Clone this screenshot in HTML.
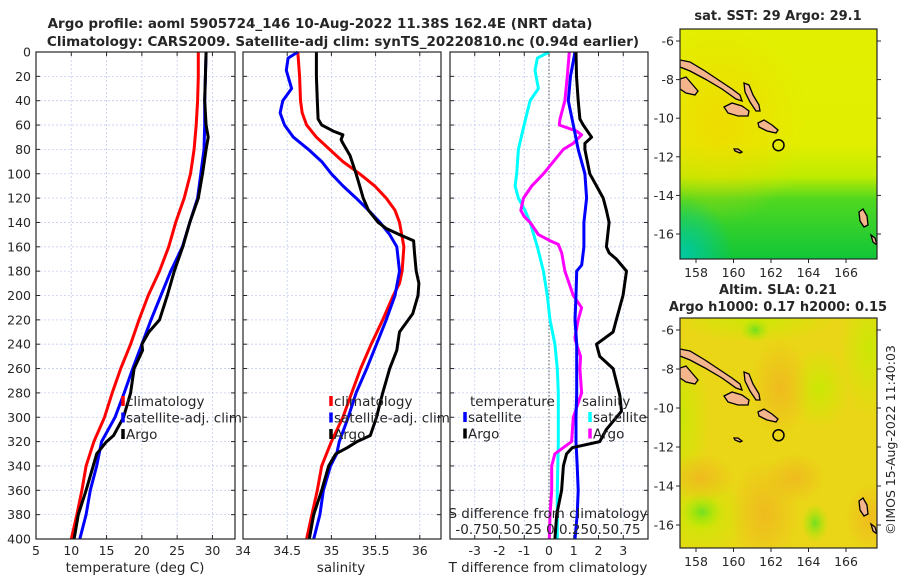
<!DOCTYPE html>
<html><head><meta charset="utf-8">
<style>
body{margin:0;background:#fff;width:900px;height:580px;overflow:hidden;font-family:"Liberation Sans","DejaVu Sans",sans-serif;}
svg text{font-family:"DejaVu Sans","Liberation Sans",sans-serif;fill:#262626;}
</style></head>
<body>
<svg id="c" width="900" height="580" xmlns="http://www.w3.org/2000/svg">
<defs>
<linearGradient id="sstBase" x1="0" y1="0" x2="0" y2="1">
<stop offset="0" stop-color="#e2f000"/><stop offset="0.5" stop-color="#e2ee00"/><stop offset="0.64" stop-color="#c0ec00"/><stop offset="0.74" stop-color="#50d820"/><stop offset="1" stop-color="#10c638"/></linearGradient>
<radialGradient id="sstOr" cx="0.2" cy="0.4" r="0.45"><stop offset="0" stop-color="#f4d400" stop-opacity="0.7"/><stop offset="1" stop-color="#f4d400" stop-opacity="0"/></radialGradient>
<radialGradient id="sstTeal" cx="0.02" cy="0.98" r="0.25"><stop offset="0" stop-color="#00c8a0"/><stop offset="1" stop-color="#00c8a0" stop-opacity="0"/></radialGradient>
<radialGradient id="slaOr" cx="0.5" cy="0.5" r="0.5"><stop offset="0" stop-color="#f0b420" stop-opacity="0.8"/><stop offset="1" stop-color="#f0b420" stop-opacity="0"/></radialGradient>
<radialGradient id="slaGr" cx="0.5" cy="0.5" r="0.5"><stop offset="0" stop-color="#70e020"/><stop offset="1" stop-color="#b0e800" stop-opacity="0"/></radialGradient>
<radialGradient id="slaLg" cx="0.5" cy="0.5" r="0.5"><stop offset="0" stop-color="#c4ec00" stop-opacity="0.8"/><stop offset="1" stop-color="#c4ec00" stop-opacity="0"/></radialGradient>
<clipPath id="mclip"><rect x="0" y="0" width="197" height="230"/></clipPath>
</defs>
<text x="320" y="28" text-anchor="middle" font-size="13.5" font-weight="bold">Argo profile: aoml 5905724_146 10-Aug-2022 11.38S 162.4E (NRT data)</text>
<text x="343" y="46" text-anchor="middle" font-size="13.5" font-weight="bold">Climatology: CARS2009. Satellite-adj clim: synTS_20220810.nc (0.94d earlier)</text>
<g id="plots"></g>
<g id="maps"></g>
<text transform="translate(895,440) rotate(-90)" text-anchor="middle" font-size="12.5">©IMOS 15-Aug-2022 11:40:03</text>
</svg>
<script>
// depth axis ticks
const depthTicks=[0,20,40,60,80,100,120,140,160,180,200,220,240,260,280,300,320,340,360,380,400];
// Panel 1: temperature
const tempTicks=[5,10,15,20,25,30];
const tClimD=[0,20,40,60,80,100,120,140,160,180,200,220,240,260,280,300,320,340,360,380,400];
const tClim=[28.0,28.0,27.9,27.7,27.4,26.9,26.0,24.8,23.8,22.5,20.9,19.6,18.4,17.0,15.8,14.7,13.2,12.1,11.5,10.8,10.0];
const tSatD=[0,20,40,60,80,100,120,140,160,180,200,220,240,260,280,300,320,340,360,380,400];
const tSat=[29.1,29.0,28.9,28.9,28.8,28.35,27.9,26.8,25.75,24.1,22.7,21.3,20.0,18.7,17.5,16.2,14.3,13.6,12.7,12.1,11.2];
const tArgoD=[0,20,40,60,70,80,100,120,140,160,170,180,200,220,230,240,245,260,280,300,315,320,330,340,360,380,400];
const tArgo=[29.1,29.0,28.9,29.1,29.4,29.1,28.6,28.0,26.8,25.8,25.2,24.6,23.6,22.5,21.0,20.0,20.1,18.9,18.4,17.4,16.0,15.0,13.6,13.1,12.1,11.0,10.4];
// Panel 2: salinity
const salTicks=[34,34.5,35,35.5,36];
const salTickLabels=["34","34.5","35","35.5","36"];
const sClimD=[0,20,40,50,60,70,80,90,100,110,120,130,140,160,180,190,200,220,240,260,280,300,320,340,360,380,400];
const sClim=[34.62,34.64,34.65,34.67,34.72,34.83,34.98,35.13,35.32,35.49,35.62,35.72,35.77,35.82,35.80,35.77,35.70,35.58,35.45,35.33,35.23,35.13,35.00,34.89,34.84,34.78,34.72];
const sSatD=[0,5,15,30,40,50,60,70,80,90,100,110,120,130,140,150,160,180,200,220,240,260,280,300,320,330,340,360,380,400];
const sSat=[34.62,34.51,34.49,34.55,34.45,34.42,34.47,34.57,34.74,34.89,35.0,35.13,35.28,35.42,35.55,35.66,35.74,35.77,35.72,35.62,35.51,35.40,35.28,35.19,35.09,35.06,34.99,34.91,34.87,34.80];
const sArgoD=[0,20,40,55,60,65,68,72,75,85,100,110,120,130,140,145,150,155,165,180,190,200,215,230,245,260,280,300,315,320,325,330,340,360,380,400];
const sArgo=[34.83,34.83,34.84,34.85,34.89,35.02,35.13,35.11,35.13,35.21,35.28,35.32,35.36,35.42,35.53,35.62,35.77,35.93,35.94,35.96,35.99,35.98,35.92,35.77,35.74,35.66,35.58,35.51,35.44,35.29,35.18,35.05,34.97,34.89,34.80,34.75];
// Panel 3: differences
const dTTicks=[-3,-2,-1,0,1,2,3];
const dTSatD=[0,20,40,60,80,100,120,140,160,175,180,200,220,240,260,280,300,320,340,360,380,400];
const dTSat=[1.05,0.87,0.78,0.98,1.18,1.45,1.52,1.41,1.41,1.32,1.12,1.09,1.05,1.12,1.12,1.12,1.09,1.09,1.14,1.18,1.14,1.05];
const dTArgoD=[0,20,40,55,60,70,75,80,100,110,120,130,140,160,165,170,180,200,220,230,240,250,260,282,295,310,320,325,330,340,360,380,400];
const dTArgo=[1.09,1.11,1.18,1.25,1.38,1.72,1.45,1.45,1.65,1.92,2.19,2.32,2.43,2.32,2.43,2.72,3.13,2.99,2.72,2.59,1.92,2.05,2.59,2.86,2.93,2.32,2.05,0.94,0.71,0.58,0.51,0.31,0.24];
const dSSatD=[0,5,15,30,40,60,80,100,110,120,130,140,160,180,200,220,240,260,280,320,360,400];
const dSSat=[0,-0.117,-0.141,-0.107,-0.191,-0.252,-0.309,-0.326,-0.342,-0.309,-0.242,-0.191,-0.117,-0.057,-0.017,0.010,0.060,0.084,0.094,0.094,0.084,0.084];
const dSArgoD=[0,20,40,55,60,65,68,75,80,90,100,110,120,130,135,140,150,155,158,165,180,200,210,220,235,240,250,260,280,300,320,330,340,360,380,400];
const dSArgo=[0.205,0.185,0.161,0.111,0.104,0.278,0.329,0.245,0.144,0.044,-0.057,-0.174,-0.258,-0.285,-0.252,-0.191,-0.107,0.010,0.094,0.128,0.161,0.245,0.329,0.295,0.262,0.278,0.319,0.312,0.329,0.245,0.228,0.060,0.027,0.027,0.010,0.003];

const NS='http://www.w3.org/2000/svg';
const root=document.getElementById('plots');
function mk(tag,attrs,parent){const e=document.createElementNS(NS,tag);for(const k in attrs)e.setAttribute(k,attrs[k]);(parent||root).appendChild(e);return e;}
const Y0=52,Y1=539;
function yS(d){return Y0+(d/400)*(Y1-Y0);}
function lin(d0,d1,r0,r1){return v=>r0+(v-d0)/(d1-d0)*(r1-r0);}

function panel(name,x0,x1,xs,xticks,xlabels,showY){
  const g=mk('g',{});
  
  
  xticks.forEach(t=>{const x=xs(t);mk('line',{x1:x,x2:x,y1:Y0,y2:Y1,stroke:'#c3cdf0','stroke-width':0.8,'stroke-dasharray':'2,2'},g);
    mk('line',{x1:x,x2:x,y1:Y1,y2:Y1-4,stroke:'#262626','stroke-width':1},g);mk('line',{x1:x,x2:x,y1:Y0,y2:Y0+4,stroke:'#262626','stroke-width':1},g);});
  depthTicks.forEach(d=>{const y=yS(d);mk('line',{x1:x0,x2:x1,y1:y,y2:y,stroke:'#c3cdf0','stroke-width':0.8,'stroke-dasharray':'2,2'},g);
    mk('line',{x1:x0,x2:x0+4,y1:y,y2:y,stroke:'#262626','stroke-width':1},g);mk('line',{x1:x1,x2:x1-4,y1:y,y2:y,stroke:'#262626','stroke-width':1},g);
    if(showY){const t=mk('text',{x:x0-5,y:y+4.5,'text-anchor':'end','font-size':12.5},g);t.textContent=d;
      
      }});
  if(xlabels){xticks.forEach((t,i)=>{const tx=mk('text',{x:xs(t),y:Y1+16,'text-anchor':'middle','font-size':12.5},g);tx.textContent=xlabels[i];
    
    });}
  return g;
}
function curve(g,name,xs,ds,vs,color){
  let p='';ds.forEach((d,i)=>{p+=(i?'L':'M')+xs(vs[i]).toFixed(1)+','+yS(d).toFixed(1);});
  const e=mk('path',{d:p,fill:'none',stroke:color,'stroke-width':3,'stroke-linejoin':'round'},g);
  
  
}
function frame(g,x0,x1){mk('rect',{x:x0,y:Y0,width:x1-x0,height:Y1-Y0,fill:'none',stroke:'#262626','stroke-width':1.2},g);}
function legend(g,x,y,items,name){
  const lg=mk('g',{},g);
  
  
  items.forEach((it,i)=>{const yy=y+i*16.5;
    if(it[1])mk('line',{x1:x,x2:x,y1:yy-10,y2:yy,stroke:it[1],'stroke-width':3.5},lg);
    const t=mk('text',{x:x+(it[1]?3:0),y:yy,'font-size':13.5},lg);t.textContent=it[0];});
}
function xlabel(g,x,y,txt,name){const t=mk('text',{x:x,y:y,'text-anchor':'middle','font-size':13.5},g);t.textContent=txt;
  
  }

const xT=lin(5,33.2,36,235);
let g1=panel('temperature-panel',36,235,xT,tempTicks,tempTicks.map(String),true);
curve(g1,'temp-climatology-line',xT,tClimD,tClim,'#ff0000');
curve(g1,'temp-satellite-line',xT,tSatD,tSat,'#0000ff');
curve(g1,'temp-argo-line',xT,tArgoD,tArgo,'#000000');
frame(g1,36,235);
legend(g1,123,406,[['climatology','#ff0000'],['satellite-adj. clim','#0000ff'],['Argo','#000000']],'temperature-legend');
xlabel(g1,135,572,'temperature (deg C)','temperature-axis-title');

const xS=lin(34,36.24,243,441);
let g2=panel('salinity-panel',243,441,xS,salTicks,salTickLabels,false);
curve(g2,'sal-climatology-line',xS,sClimD,sClim,'#ff0000');
curve(g2,'sal-satellite-line',xS,sSatD,sSat,'#0000ff');
curve(g2,'sal-argo-line',xS,sArgoD,sArgo,'#000000');
frame(g2,243,441);
legend(g2,331,406,[['climatology','#ff0000'],['satellite-adj. clim','#0000ff'],['Argo','#000000']],'salinity-legend');
xlabel(g2,341,572,'salinity','salinity-axis-title');

const xD=lin(-4,4,450,648);
const xDS=v=>xD(v*4);
let g3=panel('difference-panel',450,648,xD,dTTicks,dTTicks.map(String),false);
mk('line',{x1:xD(0),x2:xD(0),y1:Y0,y2:Y1,stroke:'#555','stroke-width':1,'stroke-dasharray':'1.5,2'},g3);
curve(g3,'sal-diff-satellite-line',xDS,dSSatD,dSSat,'#00ffff');
curve(g3,'sal-diff-argo-line',xDS,dSArgoD,dSArgo,'#ff00ff');
curve(g3,'temp-diff-satellite-line',xD,dTSatD,dTSat,'#0000ff');
curve(g3,'temp-diff-argo-line',xD,dTArgoD,dTArgo,'#000000');
frame(g3,450,648);
legend(g3,470,406,[['temperature',null]],'temp-diff-legend-title');
legend(g3,465,422,[['satellite','#0000ff'],['Argo','#000000']],'temp-diff-legend');
legend(g3,582,406,[['salinity',null]],'sal-diff-legend-title');
legend(g3,590,422,[['satellite','#00ffff'],['Argo','#ff00ff']],'sal-diff-legend');
xlabel(g3,548,518,'S difference from climatology','s-difference-axis-title');
const sl=mk('text',{x:548,y:534,'text-anchor':'middle','font-size':13.5},g3);
sl.textContent='-0.750.50.25 0 0.250.50.75';


xlabel(g3,548,572,'T difference from climatology','t-difference-axis-title');

// Maps
const lonTicks=[158,160,162,164,166];
const latTicks=[-6,-8,-10,-12,-14,-16];
const mroot=document.getElementById('maps');
const lonX=lin(158,166,696,846);
function mapPanel(name,top,lat6,lat16,kind,t1,t2){
  const g=mk('g',{},mroot);
  
  
  const latY=lin(-6,-16,lat6,lat16);
  const inner=mk('g',{transform:'translate(680,'+top+')','clip-path':'url(#mclip)'},g);
  if(kind==='sst'){
    mk('rect',{x:0,y:0,width:197,height:230,fill:'url(#sstBase)'},inner);
    mk('rect',{x:0,y:0,width:197,height:230,fill:'url(#sstOr)'},inner);
    mk('rect',{x:0,y:0,width:197,height:230,fill:'url(#sstTeal)'},inner);
  } else {
    mk('rect',{x:0,y:0,width:197,height:230,fill:'#ead616'},inner);
    [[75,0,80,25],[0,100,30,80],[190,30,30,70],[20,200,50,45],[140,70,30,40]].forEach(a=>mk('ellipse',{cx:a[0],cy:a[1],rx:a[2],ry:a[3],fill:'url(#slaLg)'},inner));
    [[85,195,35,55],[100,70,30,50],[20,160,35,25],[115,160,30,25],[190,200,25,35]].forEach(a=>mk('ellipse',{cx:a[0],cy:a[1],rx:a[2],ry:a[3],fill:'url(#slaOr)'},inner));
    [[22,194,22,18],[135,205,14,20],[75,12,15,12]].forEach(a=>mk('ellipse',{cx:a[0],cy:a[1],rx:a[2],ry:a[3],fill:'url(#slaGr)'},inner));
  }
  const isl=[
   '0,31 10,33 25,42 40,52 52,60 60,66 62,72 56,70 42,60 25,50 10,42 0,38',
   '0,50 6,48 12,55 18,62 15,66 6,64 0,60',
   '44,78 52,74 62,77 69,82 68,87 58,87 48,84',
   '64,54 69,56 73,66 79,76 80,82 76,82 70,73 65,63',
   '78,94 84,91 92,96 98,101 96,104 87,102 79,98',
   '54,120 58,120 62,123 60,124 55,122',
   '179,183 183,180 187,187 188,196 184,198 180,192',
   '191,206 195,209 197,216 193,213'];
  isl.forEach(pts=>{const p=mk('polygon',{points:pts,fill:'#f4b48c',stroke:'#000','stroke-width':1.3},inner);
    
    });
  const argoPt=[162.4,-11.4];
  const c=mk('circle',{cx:lonX(argoPt[0]),cy:latY(argoPt[1]),r:5.5,fill:'none',stroke:'#000','stroke-width':1.5},g);
  
  
  mk('rect',{x:680,y:top,width:197,height:230,fill:'none',stroke:'#262626','stroke-width':1.2},g);
  lonTicks.forEach(l=>{const x=lonX(l);mk('line',{x1:x,x2:x,y1:top+230,y2:top+234,stroke:'#262626'},g);
    const t=mk('text',{x:x,y:top+248,'text-anchor':'middle','font-size':12.5},g);t.textContent=l;});
  latTicks.forEach(l=>{const y=latY(l);mk('line',{x1:877,x2:881,y1:y,y2:y,stroke:'#262626'},g);mk('line',{x1:680,x2:676,y1:y,y2:y,stroke:'#262626'},g);
    const t=mk('text',{x:674,y:y+4.5,'text-anchor':'end','font-size':12.5},g);t.textContent=l;});
  const tt=mk('text',{x:778,y:t2?top-24:top-9,'text-anchor':'middle','font-size':13,'font-weight':'bold'},g);tt.textContent=t1;
  if(t2){const t=mk('text',{x:778,y:top-7,'text-anchor':'middle','font-size':13,'font-weight':'bold'},g);t.textContent=t2;}
}
mapPanel('sst-map',29,41,234,'sst','sat. SST: 29 Argo: 29.1');
mapPanel('sla-map',318,330,525,'sla','Altim. SLA: 0.21','Argo h1000: 0.17 h2000: 0.15');
</script>
</body></html>
